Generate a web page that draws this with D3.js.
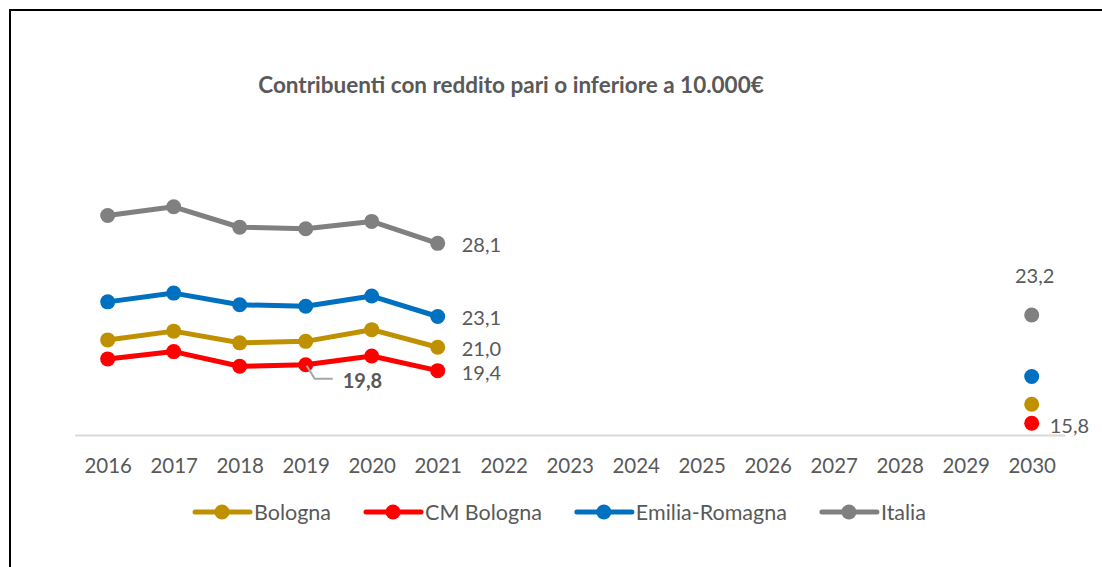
<!DOCTYPE html>
<html><head><meta charset="utf-8">
<script src="https://cdn.jsdelivr.net/npm/d3@7"></script>
<style>body{margin:0;background:#fff} svg{display:block} text{font-family:Lato,"Open Sans",sans-serif}</style>
</head><body><svg id="c" width="1102" height="567"></svg>
<script>
const years = ["2016","2017","2018","2019","2020","2021","2022","2023","2024","2025","2026","2027","2028","2029","2030"];
const bologna       = [21.5, 22.1, 21.3, 21.4, 22.2, 21.0, null, null, null, null, null, null, null, null, 17.1];
const cmBologna     = [20.2, 20.7, 19.7, 19.8, 20.4, 19.4, null, null, null, null, null, null, null, null, 15.8];
const emiliaRomagna = [24.1, 24.7, 23.9, 23.8, 24.5, 23.1, null, null, null, null, null, null, null, null, 19.0];
const italia        = [30.0, 30.6, 29.2, 29.1, 29.6, 28.1, null, null, null, null, null, null, null, null, 23.2];
const seriesNames   = ["Bologna", "CM Bologna", "Emilia-Romagna", "Italia"];
const title = "Contribuenti con reddito pari o inferiore a 10.000€";
const fmt = v => v.toFixed(1).replace(".", ",");

const series = [
  {name: seriesNames[0], values: bologna, color: "#BF9000"},
  {name: seriesNames[1], values: cmBologna, color: "#FF0000"},
  {name: seriesNames[2], values: emiliaRomagna, color: "#0070C0"},
  {name: seriesNames[3], values: italia, color: "#808080"}
];
// data labels: series index, year, placement
const labels = [
  {s: 3, year: "2021", pos: "right"},
  {s: 2, year: "2021", pos: "right"},
  {s: 0, year: "2021", pos: "right"},
  {s: 1, year: "2021", pos: "right"},
  {s: 1, year: "2019", pos: "leader"},
  {s: 3, year: "2030", pos: "above"},
  {s: 1, year: "2030", pos: "right2"}
];

const svg = d3.select("#c");
const textColor = "#595959";

svg.append("rect").attr("x", 10).attr("y", 10).attr("width", 1200).attr("height", 700)
  .attr("fill", "none").attr("stroke", "#000").attr("stroke-width", 2);

const x = d3.scalePoint().domain(years).range([74.7, 1064.7]).padding(0.5);
const y = d3.scaleLinear().domain([15, 35]).range([435, 142.4]);

svg.append("text").attr("x", 511).attr("y", 93).attr("text-anchor", "middle")
  .attr("fill", textColor).attr("font-size", 22.5).attr("font-weight", "bold").text(title);

const ax = svg.append("g").attr("transform", `translate(0,${y(15)})`)
  .call(d3.axisBottom(x).tickSize(0).tickSizeOuter(0).tickPadding(23));
ax.select(".domain").attr("stroke", "#D9D9D9").attr("stroke-width", 2);
ax.selectAll("text").attr("fill", textColor).attr("font-size", 20.5).attr("font-family", "Lato");

const line = d3.line().defined(d => d != null).x((d, i) => x(years[i])).y(d => y(d));

series.forEach(s => {
  svg.append("path").attr("d", line(s.values)).attr("fill", "none")
    .attr("stroke", s.color).attr("stroke-width", 5).attr("stroke-linejoin", "round");
  svg.append("g").selectAll("circle")
    .data(s.values.map((v, i) => ({v, yr: years[i]})).filter(d => d.v != null))
    .join("circle").attr("cx", d => x(d.yr)).attr("cy", d => y(d.v)).attr("r", 7.5).attr("fill", s.color);
});

labels.forEach(l => {
  const s = series[l.s];
  const v = s.values[years.indexOf(l.year)];
  const px = x(l.year), py = y(v);
  const t = svg.append("text").attr("fill", textColor).attr("font-size", 20).text(fmt(v));
  if (l.pos === "right") {
    t.attr("x", px + 24).attr("y", py + 9);
  } else if (l.pos === "right2") {
    t.attr("x", px + 18).attr("y", py + 10);
  } else if (l.pos === "above") {
    t.attr("x", px + 3).attr("y", py - 32).attr("text-anchor", "middle");
  } else if (l.pos === "leader") {
    svg.append("path").attr("d", `M${px + 1},${py + 1}L${px + 9},${py + 14}L${px + 27},${py + 14}`)
      .attr("fill", "none").attr("stroke", "#A6A6A6").attr("stroke-width", 2);
    t.attr("x", px + 37).attr("y", py + 23).attr("font-weight", "bold");
  }
});

// legend
const lg = svg.append("g");
let lx = 195;
const ly = 512;
series.forEach(s => {
  const g = lg.append("g");
  g.append("line").attr("x1", lx).attr("x2", lx + 55).attr("y1", ly).attr("y2", ly)
    .attr("stroke", s.color).attr("stroke-width", 5).attr("stroke-linecap", "round");
  g.append("circle").attr("cx", lx + 27).attr("cy", ly).attr("r", 7.5).attr("fill", s.color);
  const t = g.append("text").attr("x", lx + 59).attr("y", ly + 7.5).attr("fill", textColor)
    .attr("font-size", 21.5).text(s.name);
  lx += 59 + t.node().getComputedTextLength() + 35;
});
</script>
</body></html>
